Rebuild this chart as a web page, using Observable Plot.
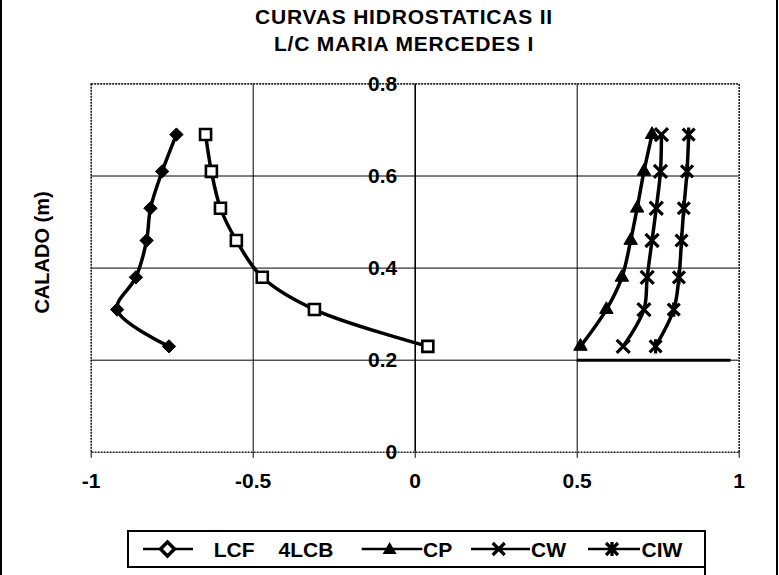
<!DOCTYPE html>
<html><head><meta charset="utf-8">
<script src="https://cdn.jsdelivr.net/npm/d3@7"></script>
<script src="https://cdn.jsdelivr.net/npm/@observablehq/plot@0.6"></script>
<style>
html,body{margin:0;padding:0;background:#fff;}
#fig{position:relative;width:779px;height:575px;overflow:hidden;background:#fff;font-family:"Liberation Sans",Arial,sans-serif;font-weight:bold;color:#000;}
#title{position:absolute;left:104px;top:3px;width:600px;text-align:center;font-size:21px;line-height:27px;letter-spacing:0.8px;}
#plot{position:absolute;left:0;top:60px;}
#legend{position:absolute;left:127px;top:530px;}
.edge{position:absolute;background:#000;}
</style></head><body>
<div id="fig">
  <div id="title">CURVAS HIDROSTATICAS II<br>L/C MARIA MERCEDES I</div>
  <div id="plot"></div>
  <div id="legend"></div>
  <div class="edge" style="left:0;top:0;width:2px;height:575px"></div>
  <div class="edge" style="left:776px;top:0;width:2px;height:575px"></div>
  <div class="edge" style="left:704px;top:566px;width:2px;height:9px"></div>
</div>
<script>
// ---- data ----
const draft = [0.69, 0.61, 0.53, 0.46, 0.38, 0.31, 0.23];
const lcf = [-0.737, -0.781, -0.817, -0.829, -0.862, -0.920, -0.760];
const lcb = [-0.647, -0.629, -0.601, -0.552, -0.472, -0.311, 0.039];
const cp  = [0.731, 0.706, 0.685, 0.665, 0.638, 0.590, 0.510];
const cw  = [0.760, 0.757, 0.744, 0.731, 0.716, 0.706, 0.642];
const ciw = [0.844, 0.839, 0.829, 0.822, 0.814, 0.798, 0.742];
const seriesNames = ["LCF", "LCB", "CP", "CW", "CIW"];
const legendLabels = ["LCF", "4LCB", "CP", "CW", "CIW"];
const xTicks = [-1, -0.5, 0, 0.5, 1];
const yTicks = [0, 0.2, 0.4, 0.6, 0.8];
const gridXs = [-0.5, 0.5];
const gridYs = [0.2, 0.4, 0.6];
const heavySegment = [{y: 0.2, x1: 0.5, x2: 0.975}];
const yLabel = "CALADO (m)";

const seriesValues = [lcf, lcb, cp, cw, ciw];
const rows = seriesNames.flatMap((name, k) =>
  seriesValues[k].map((v, i) => ({series: name, x: v, y: draft[i]})));
const pick = n => rows.filter(d => d.series === n);

const starSymbol = {draw(ctx, size) {
  const r = Math.sqrt(size) * 0.56;
  ctx.moveTo(-r, -r); ctx.lineTo(r, r);
  ctx.moveTo(-r, r); ctx.lineTo(r, -r);
  ctx.moveTo(0, -r * 1.2); ctx.lineTo(0, r * 1.2);
}};

const font = "'Liberation Sans', Arial, sans-serif";
const chart = Plot.plot({
  width: 779, height: 460,
  marginTop: 23.4, marginBottom: 68.2, marginLeft: 90.7, marginRight: 40.3,
  x: {domain: [-1, 1], ticks: xTicks, tickFormat: d => String(d), tickSize: 6, tickPadding: 15, label: null},
  y: {domain: [0, 0.8], axis: null},
  style: {fontFamily: font, fontSize: "21px", fontWeight: "bold", color: "#000", background: "#fff", overflow: "visible"},
  marks: [
    Plot.gridX(gridXs, {stroke: "#000", strokeOpacity: 1, strokeWidth: 1}),
    Plot.gridY(gridYs, {stroke: "#000", strokeOpacity: 1, strokeWidth: 1}),
    Plot.ruleY(heavySegment, {y: "y", x1: "x1", x2: "x2", stroke: "#000", strokeWidth: 3}),
    Plot.ruleX([0], {stroke: "#000", strokeWidth: 1.6}),
    Plot.frame({stroke: "#222", strokeWidth: 1.6, strokeDasharray: "2,1"}),
    Plot.text(yTicks, {x: 0, y: d => d, text: d => String(d), dx: -18, textAnchor: "end", lineAnchor: "middle", fill: "#000"}),
    Plot.text([yLabel], {frameAnchor: "left", textAnchor: "middle", dx: -48.7, dy: -15.6, rotate: -90, fontSize: 20, fill: "#000"}),
    Plot.line(rows, {x: "x", y: "y", z: "series", curve: "catmull-rom", stroke: "#000", strokeWidth: 3.5}),
    Plot.dot(pick("LCF"), {x: "x", y: "y", symbol: "diamond2", r: 6, fill: "#000", stroke: "#000", strokeWidth: 1}),
    Plot.dot(pick("LCB"), {x: "x", y: "y", symbol: "square2", r: 7, fill: "#fff", stroke: "#000", strokeWidth: 2.6}),
    Plot.dot(pick("CP"), {x: "x", y: "y", symbol: "triangle", r: 5, fill: "#000", stroke: "#000", strokeWidth: 1}),
    Plot.dot(pick("CW"), {x: "x", y: "y", symbol: "times", r: 6, fill: "none", stroke: "#000", strokeWidth: 3.2}),
    Plot.dot(pick("CIW"), {x: "x", y: "y", symbol: starSymbol, r: 6, fill: "none", stroke: "#000", strokeWidth: 3.2})
  ]
});
document.getElementById("plot").appendChild(chart);

// ---- legend ----
const lg = d3.select("#legend").append("svg").attr("width", 580).attr("height", 38)
  .style("font-family", font).style("font-weight", "bold").style("font-size", "21px");
lg.append("rect").attr("x", 1).attr("y", 1).attr("width", 577).attr("height", 36)
  .attr("fill", "#fff").attr("stroke", "#000").attr("stroke-width", 2);
const cy = 19;
const items = [
  {line: [16, 66], m: 40.5, sym: "diamond", text: [[86.7, legendLabels[0]], [151.5, legendLabels[1]]]},
  {line: [234.7, 295.4], m: 262.6, sym: "triangle", text: [[296, legendLabels[2]]]},
  {line: [344, 403], m: 371.7, sym: "times", text: [[404, legendLabels[3]]]},
  {line: [461, 513], m: 485, sym: "star", text: [[514.5, legendLabels[4]]]}
];
items.forEach(it => {
  lg.append("line").attr("x1", it.line[0]).attr("x2", it.line[1]).attr("y1", cy).attr("y2", cy)
    .attr("stroke", "#000").attr("stroke-width", 2.5);
  const g = lg.append("g").attr("transform", `translate(${it.m},${cy})`);
  if (it.sym === "diamond") g.append("path").attr("d", "M0,-7L7,0L0,7L-7,0Z").attr("fill", "#fff").attr("stroke", "#000").attr("stroke-width", 3.5);
  if (it.sym === "triangle") g.append("path").attr("d", "M0,-7L7,5L-7,5Z").attr("fill", "#000");
  if (it.sym === "times") g.append("path").attr("d", "M-6,-6L6,6M-6,6L6,-6").attr("stroke", "#000").attr("stroke-width", 3.2);
  if (it.sym === "star") g.append("path").attr("d", "M-6,-6L6,6M-6,6L6,-6M0,-7L0,7").attr("stroke", "#000").attr("stroke-width", 3.2);
  it.text.forEach(([x, t]) => lg.append("text").attr("x", x).attr("y", cy).attr("dy", "0.36em").text(t));
});
</script>
</body></html>
